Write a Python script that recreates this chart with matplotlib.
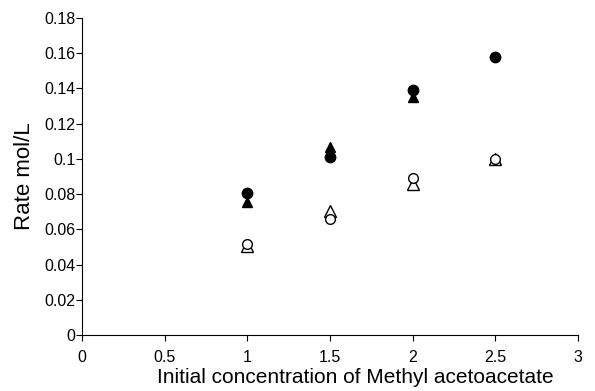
import matplotlib
matplotlib.use('Agg')
import matplotlib.pyplot as plt

plt.rcParams['font.family'] = ['Liberation Sans', 'DejaVu Sans']

conc = [1.0, 1.5, 2.0, 2.5]
filled_circle = [0.0805, 0.101, 0.139, 0.158]
# the fourth filled triangle is hidden behind the circle in the original
filled_triangle = [0.0755, 0.107, 0.135]
open_circle = [0.0515, 0.066, 0.089, 0.1]
open_triangle = [0.0505, 0.0705, 0.0855, 0.1]

x_ticks = [0, 0.5, 1, 1.5, 2, 2.5, 3]
y_ticks = [0, 0.02, 0.04, 0.06, 0.08, 0.1, 0.12, 0.14, 0.16, 0.18]

fig = plt.figure(figsize=(5.95, 3.91), dpi=100)
ax = fig.add_axes([0.138, 0.143, 0.833, 0.811])

ax.plot(conc[:len(filled_triangle)], filled_triangle, '^', color='black',
        markersize=7, linestyle='none')
ax.plot(conc, filled_circle, 'o', color='black', markersize=7.5, linestyle='none')
ax.plot(conc, open_triangle, '^', markerfacecolor='white', markeredgecolor='black',
        markeredgewidth=1, markersize=8, linestyle='none')
ax.plot(conc, open_circle, 'o', markerfacecolor='white', markeredgecolor='black',
        markeredgewidth=1, markersize=7, linestyle='none')

ax.set_xlim(0, 3)
ax.set_ylim(0, 0.18)
ax.set_xticks(x_ticks)
ax.set_xticklabels(['0', '0.5', '1', '1.5', '2', '2.5', '3'])
ax.set_yticks(y_ticks)
ax.set_yticklabels(['0', '0.02', '0.04', '0.06', '0.08', '0.1', '0.12', '0.14', '0.16', '0.18'])
ax.spines['top'].set_visible(False)
ax.spines['right'].set_visible(False)
ax.tick_params(direction='out', length=4, labelsize=11.5, width=0.8)
ax.tick_params(axis='x', pad=7)
ax.tick_params(axis='y', pad=1)
ax.set_xlabel('Initial concentration of Methyl acetoacetate', fontsize=15)
ax.set_ylabel('Rate mol/L', fontsize=16)
ax.xaxis.set_label_coords(0.552, -0.105)
ax.yaxis.set_label_coords(-0.095, 0.5)
for line in ax.lines:
    line.set_clip_on(False)

fig.savefig('out.png', dpi=100)
